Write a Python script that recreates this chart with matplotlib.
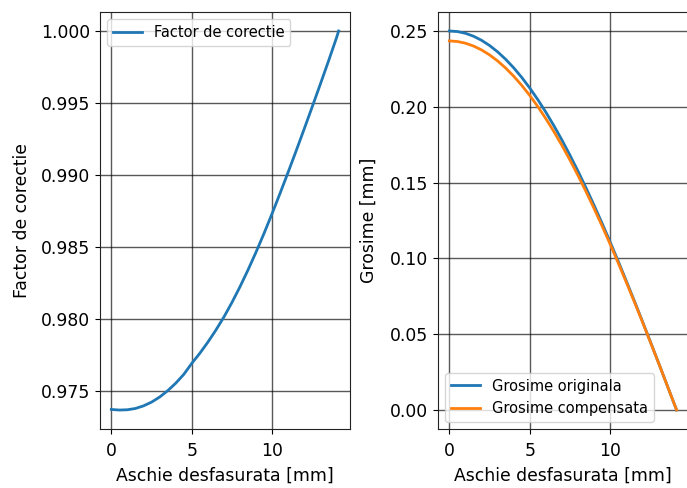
import numpy as np
import matplotlib
matplotlib.use('Agg')
import matplotlib.pyplot as plt

# valori
aschie = [0.0, 0.5, 1.0, 1.5, 2.0, 2.5, 3.0, 3.5, 4.0, 4.5, 5.0, 5.5, 6.0, 6.5, 7.0,
          7.5, 8.0, 8.5, 9.0, 9.5, 10.0, 10.5, 11.0, 11.5, 12.0, 12.5, 13.0, 13.5,
          14.0, 14.14]
factor = [0.97370, 0.97366, 0.97368, 0.97377, 0.97395, 0.97421, 0.97456, 0.97500,
          0.97552, 0.97613, 0.97690, 0.97760, 0.97837, 0.97921, 0.98012, 0.98113,
          0.98222, 0.98339, 0.98463, 0.98594, 0.98731, 0.98873, 0.99019, 0.99168,
          0.99320, 0.99474, 0.99630, 0.99788, 0.99950, 1.00000]
grosime_orig = [0.25000, 0.24961, 0.24846, 0.24654, 0.24385, 0.24042, 0.23624,
                0.23134, 0.22572, 0.21940, 0.21240, 0.20475, 0.19647, 0.18759,
                0.17812, 0.16810, 0.15758, 0.14655, 0.13508, 0.12319, 0.11090,
                0.09830, 0.08533, 0.07221, 0.05881, 0.04523, 0.03156, 0.01768,
                0.00381, 0.00000]
grosime_comp = [0.24343, 0.24304, 0.24192, 0.24007, 0.23750, 0.23422, 0.23023,
                0.22556, 0.22019, 0.21416, 0.20749, 0.20016, 0.19222, 0.18369,
                0.17458, 0.16493, 0.15478, 0.14412, 0.13300, 0.12146, 0.10949,
                0.09719, 0.08449, 0.07161, 0.05841, 0.04499, 0.03144, 0.01764,
                0.00381, 0.00000]

plt.rcParams['font.family'] = ['DejaVu Sans']
plt.rcParams['font.size'] = 12.4

fig = plt.figure(figsize=(6.87, 4.88), dpi=100)
ax1 = fig.add_axes([100/687, 1-429/488, 250/687, 417/488])
ax2 = fig.add_axes([438/687, 1-429/488, 250/687, 417/488])

ax1.plot(aschie, factor, color='#1f77b4', lw=2, label='Factor de corectie')
ax1.set_xlabel('Aschie desfasurata [mm]', labelpad=5)
ax1.set_ylabel('Factor de corectie', labelpad=7)
ax1.grid(True, color='k', alpha=0.65, lw=1)
ax1.legend(loc='upper left', fontsize=10.5)

ax2.plot(aschie, grosime_orig, color='#1f77b4', lw=2, label='Grosime originala')
ax2.plot(aschie, grosime_comp, color='#ff7f0e', lw=2, label='Grosime compensata')
ax2.set_xlabel('Aschie desfasurata [mm]', labelpad=5)
ax2.set_ylabel('Grosime [mm]', labelpad=9)
ax2.grid(True, color='k', alpha=0.65, lw=1)
ax2.legend(loc='lower left', fontsize=10.5)

for ax in (ax1, ax2):
    ax.set_xticks([0, 5, 10])
    ax.tick_params(axis='x', pad=6)
    for s in ax.spines.values():
        s.set_color('#222222')

fig.savefig('out.png', dpi=100)
